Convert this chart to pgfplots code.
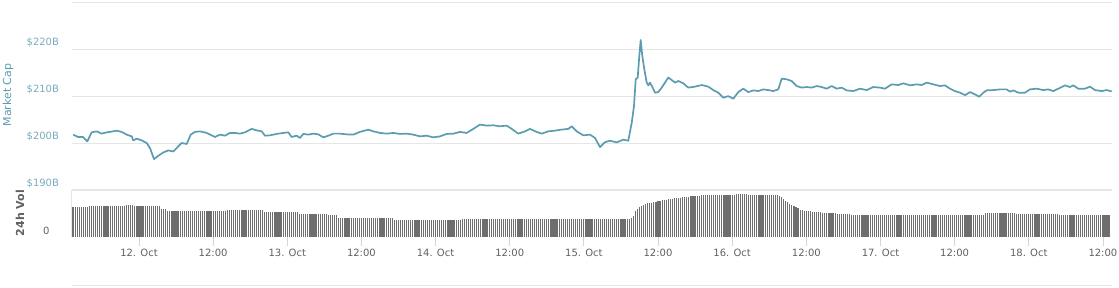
\documentclass[border=0pt]{standalone}
\usepackage{fontspec}
\setmainfont{DejaVu Sans}
\usepackage{pgfplots}
\pgfplotsset{compat=1.18}
\usepackage{pgfplotstable}
\definecolor{gridc}{RGB}{230,230,230}
\definecolor{linec}{RGB}{92,156,176}
\definecolor{capc}{RGB}{120,172,188}
\definecolor{barc}{RGB}{110,110,110}
\definecolor{txtc}{RGB}{96,96,96}
\definecolor{tickc}{RGB}{204,214,235}

% Market cap (hours since 12 Oct 00:00, $B)
\pgfplotstableread[row sep=\\]{h v\\
-10.63 201.78\\ -9.87 201.28\\ -9.06 201.28\\ -8.37 200.34\\ -7.65 202.27\\ -6.85 202.48\\ -6.04 201.99\\ -5.23 202.27\\ -4.42 202.42\\ -3.61 202.63\\
-2.80 202.36\\ -1.99 201.78\\ -1.18 201.41\\ -0.92 200.56\\ -0.37 200.92\\ 0.44 200.56\\ 1.25 200.00\\ 1.78 198.93\\ 2.43 196.57\\ 3.12 197.28\\
3.93 197.99\\ 4.74 198.42\\ 5.55 198.20\\ 6.10 198.93\\ 6.91 200.00\\ 7.72 199.79\\ 8.37 201.78\\ 9.06 202.36\\ 9.87 202.48\\ 10.96 202.14\\
12.30 201.28\\ 13.11 201.78\\ 13.92 201.56\\ 14.73 202.14\\ 15.54 202.14\\ 16.35 201.99\\ 17.16 202.27\\ 18.24 203.00\\ 19.05 202.70\\ 19.86 202.48\\
20.39 201.56\\ 21.20 201.63\\ 22.29 201.93\\ 23.35 202.14\\ 24.16 202.27\\ 24.71 201.28\\ 25.52 201.56\\ 26.06 201.07\\ 26.59 201.93\\ 27.40 201.78\\
28.21 201.99\\ 29.02 201.84\\ 29.83 201.20\\ 30.64 201.56\\ 31.45 201.99\\ 32.53 201.99\\ 33.61 201.84\\ 34.68 201.78\\ 35.77 202.36\\ 37.11 202.85\\
37.92 202.48\\ 39.00 202.14\\ 40.09 201.99\\ 41.16 202.14\\ 42.24 201.93\\ 43.32 201.99\\ 44.39 201.78\\ 45.48 201.41\\ 46.56 201.56\\ 47.63 201.20\\
48.71 201.41\\ 49.80 201.93\\ 50.87 201.99\\ 51.95 202.36\\ 53.04 202.14\\ 54.10 203.00\\ 55.19 203.92\\ 56.27 203.70\\ 57.34 203.77\\ 58.42 203.55\\
59.51 203.70\\ 60.32 203.00\\ 61.38 201.99\\ 62.47 202.48\\ 63.28 203.00\\ 64.36 202.36\\ 65.17 201.99\\ 66.24 202.48\\ 67.33 202.63\\ 68.41 202.85\\
69.48 203.00\\ 70.03 203.55\\ 70.84 202.48\\ 71.91 201.63\\ 72.99 201.78\\ 73.80 201.07\\ 74.61 199.14\\ 75.42 200.17\\ 76.23 200.49\\ 77.31 200.13\\
78.38 200.71\\ 79.19 200.49\\ 79.74 204.28\\ 80.11 207.84\\ 80.39 213.55\\ 80.71 213.92\\ 80.97 218.54\\ 81.20 221.91\\ 81.45 218.54\\ 81.78 215.70\\
82.17 212.85\\ 82.43 212.27\\ 82.70 212.85\\ 83.14 211.78\\ 83.51 210.71\\ 84.04 210.83\\ 84.59 211.78\\ 85.13 212.85\\ 85.66 213.92\\ 86.21 213.40\\
86.75 212.85\\ 87.28 213.19\\ 88.09 212.70\\ 88.90 211.78\\ 89.98 211.99\\ 91.07 212.33\\ 92.13 211.99\\ 92.94 211.26\\ 93.75 210.71\\ 94.56 209.64\\
95.37 209.98\\ 96.18 209.42\\ 96.99 210.83\\ 97.80 211.56\\ 98.61 210.83\\ 99.42 211.20\\ 100.23 211.05\\ 101.04 211.41\\ 101.85 211.26\\ 102.65 211.05\\
103.46 211.41\\ 104.02 213.70\\ 104.82 213.55\\ 105.63 213.19\\ 106.44 212.12\\ 107.25 211.78\\ 108.06 211.91\\ 108.87 211.78\\ 109.68 212.12\\ 110.48 211.91\\
111.29 211.56\\ 112.10 212.12\\ 112.91 211.56\\ 113.72 211.78\\ 114.53 211.20\\ 115.60 211.05\\ 116.69 211.56\\ 117.77 211.26\\ 118.84 211.91\\ 119.92 211.78\\
120.73 211.56\\ 121.82 212.48\\ 122.89 212.33\\ 123.69 212.70\\ 124.78 212.27\\ 125.86 212.48\\ 126.67 212.33\\ 127.48 212.85\\ 128.55 212.48\\ 129.63 212.12\\
130.44 212.27\\ 131.25 211.56\\ 132.06 211.05\\ 132.87 210.71\\ 133.68 210.19\\ 134.49 210.83\\ 135.30 210.34\\ 135.99 209.85\\ 136.64 210.71\\ 137.19 211.20\\
138.26 211.26\\ 139.34 211.41\\ 140.43 211.41\\ 140.96 210.92\\ 141.50 211.20\\ 142.31 210.71\\ 143.39 210.71\\ 144.20 211.41\\ 145.28 211.56\\ 146.35 211.26\\
147.16 211.41\\ 147.97 211.05\\ 148.78 211.56\\ 149.86 212.27\\ 150.66 211.91\\ 151.20 212.27\\ 152.01 211.56\\ 153.09 211.56\\ 153.91 211.99\\ 154.71 211.26\\
155.80 211.05\\ 156.60 211.26\\ 157.42 210.98\\
}\mcap

% 24h volume, one bar every 20 minutes (relative units)
\pgfplotstableread[row sep=\\]{v\\
30\\ 30\\ 30\\ 30\\ 30\\ 30\\ 30\\ 30\\
31\\ 31\\ 31\\ 31\\ 31\\ 31\\ 31\\ 31\\ 31\\ 31\\
31\\ 31\\ 31\\ 31\\ 31\\ 31\\ 31\\ 31\\
32\\ 32\\ 32\\ 32\\
30.7\\ 30.7\\ 30.7\\ 30.7\\ 30.7\\ 30.7\\ 30.7\\ 30.7\\ 30.7\\ 30.7\\
30.7\\ 30.7\\ 30.7\\
28\\ 28\\ 28\\
25.7\\ 25.7\\ 25.7\\ 25.7\\ 25.7\\ 25.7\\ 25.7\\ 25.7\\ 25.7\\ 25.7\\
25.7\\ 25.7\\ 25.7\\ 25.7\\ 25.7\\ 25.7\\ 25.7\\ 25.7\\ 25.7\\ 25.7\\
25.7\\ 25.7\\ 25.7\\ 25.7\\ 25.7\\ 25.7\\ 25.7\\ 25.7\\ 25.7\\
26.7\\ 26.7\\ 26.7\\ 26.7\\ 26.7\\ 26.7\\ 26.7\\ 26.7\\ 26.7\\ 26.7\\
26.7\\ 26.7\\ 26.7\\ 26.7\\ 26.7\\ 26.7\\ 26.7\\ 26.7\\
24.7\\ 24.7\\ 24.7\\ 24.7\\ 24.7\\ 24.7\\ 24.7\\ 24.7\\ 24.7\\ 24.7\\
24.7\\ 24.7\\ 24.7\\ 24.7\\ 24.7\\ 24.7\\ 24.7\\
23\\ 23\\ 23\\ 23\\ 23\\ 23\\ 23\\ 23\\ 23\\ 23\\
23\\ 23\\ 23\\ 23\\
22\\ 22\\ 22\\ 22\\ 22\\
19.3\\ 19.3\\ 19.3\\ 19.3\\ 19.3\\ 19.3\\ 19.3\\ 19.3\\ 19.3\\ 19.3\\
19.3\\ 19.3\\ 19.3\\ 19.3\\ 19.3\\ 19.3\\ 19.3\\ 19.3\\ 19.3\\ 19.3\\
19.3\\ 19.3\\ 19.3\\ 19.3\\ 19.3\\ 19.3\\ 19.3\\
17.3\\ 17.3\\ 17.3\\ 17.3\\ 17.3\\ 17.3\\ 17.3\\ 17.3\\ 17.3\\ 17.3\\
17.3\\ 17.3\\ 17.3\\ 17.3\\ 17.3\\ 17.3\\ 17.3\\ 17.3\\ 17.3\\ 17.3\\
17.3\\ 17.3\\ 17.3\\ 17.3\\ 17.3\\ 17.3\\ 17.3\\ 17.3\\ 17.3\\ 17.3\\
17.3\\ 17.3\\ 17.3\\
17.8\\ 17.8\\ 17.8\\ 17.8\\ 17.8\\ 17.8\\ 17.8\\ 17.8\\ 17.8\\ 17.8\\
17.8\\ 17.8\\ 17.8\\ 17.8\\ 17.8\\ 17.8\\ 17.8\\ 17.8\\ 17.8\\ 17.8\\
17.8\\ 17.8\\ 17.8\\ 17.8\\ 17.8\\ 17.8\\ 17.8\\ 17.8\\ 17.8\\ 17.8\\
18.4\\ 18.4\\ 18.4\\ 18.4\\ 18.4\\ 18.4\\ 18.4\\ 18.4\\ 18.4\\ 18.4\\
18.4\\ 18.4\\ 17.8\\ 17.8\\ 17.8\\ 17.8\\ 17.8\\ 17.8\\ 17.8\\ 17.8\\
17.8\\ 17.8\\ 17.8\\ 17.8\\ 17.8\\ 17.8\\ 17.8\\ 17.8\\ 17.8\\ 17.8\\
17.8\\ 17.8\\ 17.8\\ 17.8\\ 17.8\\ 17.8\\ 17.8\\ 17.8\\ 17.8\\ 17.8\\
17.8\\ 17.8\\ 17.8\\ 17.8\\ 17.8\\ 17.8\\ 17.8\\ 17.8\\ 17.8\\ 17.8\\
17.8\\ 17.8\\
19\\ 20.7\\ 26.3\\ 28\\ 29.5\\ 30.7\\ 32\\ 33\\ 33.5\\ 34\\
34.3\\ 34.7\\ 35\\ 35.5\\ 36\\ 36.5\\ 37\\ 37.3\\ 37.6\\ 38\\
38.3\\ 38.6\\ 39\\ 39.2\\ 39.4\\ 39.6\\ 39.8\\ 40\\ 40.3\\ 40.5\\
40.7\\ 40.9\\ 41.1\\ 41.3\\
41.5\\ 41.5\\ 41.6\\ 41.6\\ 41.7\\ 41.7\\ 41.8\\ 41.8\\ 41.9\\ 41.9\\
42\\ 42\\ 42\\ 42\\ 42\\ 42\\ 42\\
43\\ 43\\ 43\\ 43\\ 43\\ 43\\
42.3\\ 42.3\\ 42.3\\ 42.3\\ 42.3\\ 42.3\\ 42.3\\ 42.3\\ 42.3\\ 42.3\\
42.3\\ 42.3\\ 42.3\\ 42.3\\ 42.3\\
41\\ 40\\ 38\\ 36.3\\ 35\\ 33\\ 31.5\\ 30.7\\ 29.5\\ 28.5\\ 27.4\\
26.8\\ 26.4\\ 26\\ 25.7\\ 25.5\\ 25.3\\ 25.1\\ 24.9\\ 24.7\\ 24.5\\ 24.2\\ 24\\
23.9\\ 23.8\\ 23.7\\ 23.6\\ 23.5\\ 23.4\\ 23.3\\ 23.2\\ 23.1\\ 23\\ 23\\ 23\\
22.4\\ 22.4\\ 22.4\\ 22.4\\ 22.4\\ 22.4\\ 22.4\\ 22.4\\ 22.4\\ 22.4\\
22.4\\ 22.4\\ 22.4\\ 22.4\\ 22.4\\ 22.4\\ 22.4\\ 22.4\\ 22.4\\ 22.4\\
22.4\\ 22.4\\ 22.4\\ 22.4\\ 22.4\\ 22.4\\ 22.4\\ 22.4\\ 22.4\\ 22.4\\
22.4\\ 22.4\\ 22.4\\ 22.4\\ 22.4\\ 22.4\\ 22.4\\ 22.4\\ 22.4\\ 22.4\\
22\\ 22\\ 22\\ 22\\ 22\\ 22\\ 22\\ 22\\ 22\\ 22\\
22\\ 22\\ 22\\ 22\\ 22\\ 22\\ 22\\ 22\\ 22\\ 22\\
22\\ 22\\ 22\\ 22\\ 22\\
23.7\\ 23.7\\ 23.7\\ 23.7\\ 23.7\\ 23.7\\ 23.7\\ 23.7\\ 23.7\\ 23.7\\
23.7\\ 23.7\\ 23.7\\ 23.7\\ 23.7\\
22.7\\ 22.7\\ 22.7\\ 22.7\\ 22.7\\ 22.7\\ 22.7\\ 22.7\\ 22.7\\ 22.7\\
22.7\\ 22.7\\ 22.7\\ 22.7\\ 22.7\\ 22.7\\ 22.7\\ 22.7\\ 22.7\\ 22.7\\
22.7\\
22\\ 22\\ 22\\ 22\\ 22\\ 22\\ 22\\ 22\\ 22\\ 22\\
22\\ 22\\ 22\\ 22\\ 22\\ 22\\ 22\\ 22\\ 22\\ 22\\
22\\ 22\\ 22\\ 22\\ 22\\
}\vol

\begin{document}
\begin{tikzpicture}[x=1pt,y=1pt]
\useasboundingbox (0,0) rectangle (1119,287);
\begin{axis}[at={(72pt,97pt)}, anchor=south west, width=1040pt, height=188pt, scale only axis,
  xmin=-10.84, xmax=157.47, ymin=190, ymax=230,
  axis line style={draw=none}, xtick=\empty,
  ytick={190,200,210,220,230}, yticklabels={\$190B,\$200B,\$210B,\$220B,},
  ymajorgrids, grid style={gridc, line width=1pt}, ytick style={draw=none},
  yticklabel style={font=\fontsize{10}{12}\selectfont, text=capc, anchor=east, yshift=6.5pt, xshift=-9.5pt},
  ylabel={Market Cap},
  ylabel style={at={(axis description cs:-0.0615,0.505)}, anchor=center, rotate=0, font=\fontsize{11}{13}\selectfont, text=linec}]
\addplot[linec, line width=1.7pt, line join=round] table[x=h, y=v] {\mcap};
\end{axis}
\begin{axis}[at={(72pt,50pt)}, anchor=south west, width=1040pt, height=47pt, scale only axis,
  xmin=-10.84, xmax=157.47, ymin=0, ymax=47,
  axis line style={draw=none},
  xtick={0,12,...,156},
  xticklabels={12. Oct,12:00,13. Oct,12:00,14. Oct,12:00,15. Oct,12:00,16. Oct,12:00,17. Oct,12:00,18. Oct,12:00},
  xtick pos=left, tick align=outside, major tick length=9pt,
  xtick style={draw=tickc, line width=0.8pt},
  xticklabel style={font=\fontsize{10}{12}\selectfont, text=txtc},
  ytick={0}, yticklabels={0}, ytick style={draw=none},
  yticklabel style={font=\fontsize{10}{12}\selectfont, text=txtc, yshift=6pt, xshift=-10pt},
  ylabel={\textbf{24h Vol}},
  ylabel style={at={(axis description cs:-0.05,0.51)}, anchor=center, rotate=0, font=\fontsize{11}{13}\selectfont, text=txtc},
  after end axis/.code={
    \draw[gridc, line width=1pt] (rel axis cs:0,1) -- (rel axis cs:1,1);
    \draw[gridc, line width=1pt] (rel axis cs:0,0) -- (rel axis cs:0,1);
  }]
\addplot[ycomb, barc, line width=1.2pt] table[x expr=\coordindex/3-10.67, y=v] {\vol};
\end{axis}
\draw[gridc, line width=1pt] (72,1.5) -- (1112,1.5);
\end{tikzpicture}
\end{document}
